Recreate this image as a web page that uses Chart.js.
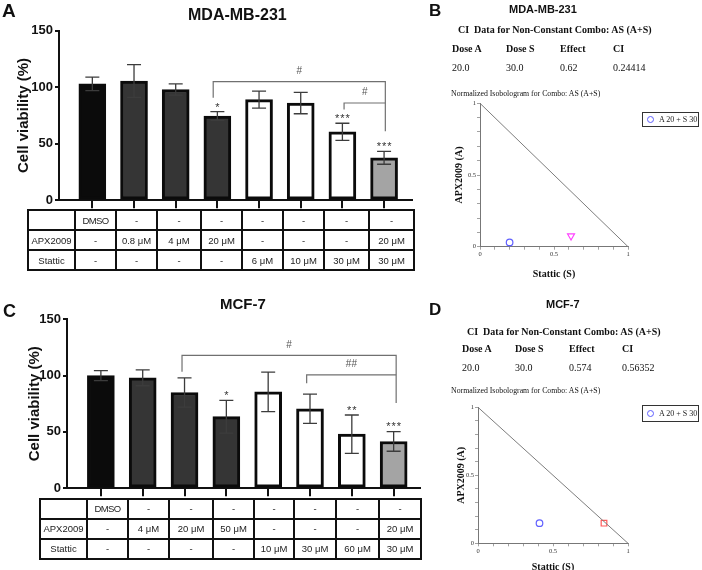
<!DOCTYPE html>
<html><head><meta charset="utf-8">
<script src="https://cdn.jsdelivr.net/npm/chart.js@4"></script>
<style>
html,body{margin:0;padding:0;background:#fff;width:702px;height:570px;overflow:hidden;position:relative;-webkit-font-smoothing:antialiased;}
canvas{position:absolute;}
.t{position:absolute;white-space:pre;line-height:1;color:#111;will-change:transform;}
table.tb{position:absolute;border-collapse:collapse;table-layout:fixed;font-family:'Liberation Sans',Arial,sans-serif;font-size:9.5px;color:#222;}
table.tb td{border:2px solid #111;text-align:center;padding:0;white-space:nowrap;overflow:hidden;}
.leg{position:absolute;border:1.5px solid #333;box-sizing:border-box;background:#fff;font-family:'Liberation Serif',serif;font-size:8px;color:#222;will-change:transform;}
.leg .dot{position:absolute;width:5px;height:5px;border:1.2px solid #5f5fff;border-radius:50%;}
</style></head><body>
<canvas id="cA" width="420" height="210" style="left:0;top:0"></canvas>
<canvas id="cC" width="428" height="208" style="left:0;top:290px"></canvas>
<canvas id="cB" width="200" height="185" style="left:440px;top:95px"></canvas>
<canvas id="cD" width="200" height="175" style="left:440px;top:398px"></canvas>
<script>
// ---------- DATA ----------
const aVehicle = ['DMSO','-','-','-','-','-','-','-'];
const aApx     = ['-','0.8 μM','4 μM','20 μM','-','-','-','20 μM'];
const aStattic = ['-','-','-','-','6 μM','10 μM','30 μM','30 μM'];
const aMean    = [103, 105.5, 98, 74.5, 89, 86, 60.5, 37.5];
const aSd      = [6, 14.5, 5, 3.8, 7.5, 9.5, 7.6, 5.7];
const aSig     = ['','','','*','','','***','***'];

const cVehicle = ['DMSO','-','-','-','-','-','-','-'];
const cApx     = ['-','4 μM','20 μM','50 μM','-','-','-','20 μM'];
const cStattic = ['-','-','-','-','10 μM','30 μM','60 μM','30 μM'];
const cMean    = [100, 98, 85, 63.5, 85.5, 70.5, 48, 41.5];
const cSd      = [4.5, 7, 13, 14.5, 17.5, 13, 17, 8.7];
const cSig     = ['','','','*','','','**','***'];

const yTicks = [0, 50, 100, 150];
const ciHeaders = ['Dose A','Dose S','Effect','CI'];
const bCI = ['20.0','30.0','0.62','0.24414'];
const dCI = ['20.0','30.0','0.574','0.56352'];
const additiveLine = [{x:0,y:1},{x:1,y:0}];
const bCombo = [{x:0.2, y:0.03}];
const bOther = [{x:0.615, y:0.075}];
const dCombo = [{x:0.41, y:0.148}];
const dOther = [{x:0.84, y:0.148}];
const isoTickLabels = [0, 0.5, 1];
const legendLabel = 'A 20 + S 30';

// ---------- HELPERS ----------
function txt(s, x, y, font, align) {
  const d = document.createElement('div');
  d.className = 't'; d.textContent = s; d.style.font = font;
  d.style.left = '0px'; d.style.top = '0px';
  document.body.appendChild(d);
  const w = d.offsetWidth, h = d.offsetHeight;
  d.style.left = Math.round(align === 'left' ? x : x - w / 2) + 'px';
  d.style.top = Math.round(y - h / 2) + 'px';
}
function buildTable(left, top, colW, rowH, rows) {
  const t = document.createElement('table'); t.className = 'tb';
  t.style.left = left + 'px'; t.style.top = top + 'px';
  t.style.width = colW.reduce((a, b) => a + b, 0) + 'px';
  const cg = document.createElement('colgroup');
  colW.forEach(w => { const c = document.createElement('col'); c.style.width = w + 'px'; cg.appendChild(c); });
  t.appendChild(cg);
  const tb = document.createElement('tbody');
  rows.forEach(r => {
    const tr = document.createElement('tr'); tr.style.height = rowH + 'px';
    r.forEach(c => {
      const td = document.createElement('td'); td.textContent = c;
      if (c === 'DMSO') td.style.letterSpacing = '-0.6px';
      tr.appendChild(td);
    });
    tb.appendChild(tr);
  });
  t.appendChild(tb);
  document.body.appendChild(t);
}

const annotPlugin = {
  id: 'annot',
  afterDatasetsDraw(chart, args, o) {
    const {ctx, scales: {x, y}} = chart;
    ctx.save();
    ctx.strokeStyle = '#3c3c3c'; ctx.lineWidth = 1.3;
    o.means.forEach((m, i) => {
      const px = x.getPixelForValue(i);
      const t = y.getPixelForValue(m + o.sds[i]);
      const b = y.getPixelForValue(m - o.sds[i]);
      ctx.beginPath();
      ctx.moveTo(px, t); ctx.lineTo(px, b);
      ctx.moveTo(px - 7, t); ctx.lineTo(px + 7, t);
      ctx.moveTo(px - 7, b); ctx.lineTo(px + 7, b);
      ctx.stroke();
      if (o.sig[i]) {
        ctx.fillStyle = '#333';
        ctx.font = '11px "Liberation Sans"';
        ctx.letterSpacing = '1px';
        ctx.textAlign = 'center'; ctx.textBaseline = 'alphabetic';
        ctx.fillText(o.sig[i], px + 0.5, t + o.starDy);
      }
    });
    ctx.letterSpacing = '0px';
    ctx.strokeStyle = '#707070'; ctx.lineWidth = 1.2;
    o.brackets.forEach(br => {
      const x1 = x.getPixelForValue(br.x1), x2 = x.getPixelForValue(br.x2);
      const yy = y.getPixelForValue(br.y);
      ctx.beginPath();
      ctx.moveTo(x1, y.getPixelForValue(br.l)); ctx.lineTo(x1, yy); ctx.lineTo(x2, yy);
      ctx.lineTo(x2, y.getPixelForValue(br.r));
      ctx.stroke();
      ctx.fillStyle = '#555'; ctx.font = '10px "Liberation Sans"';
      ctx.textAlign = 'center'; ctx.textBaseline = 'middle';
      ctx.fillText(br.label, (x1 + x2) / 2, yy - br.dy);
    });
    ctx.restore();
  }
};

const barFills = ['#0b0b0b', '#353535', '#353535', '#353535', '#ffffff', '#ffffff', '#ffffff', '#a4a4a4'];

function barChart(id, means, sds, sig, c) {
  new Chart(document.getElementById(id), {
    type: 'bar',
    data: { datasets: [{
      data: means.map((v, i) => ({x: i, y: v})),
      backgroundColor: barFills, borderColor: '#0b0b0b', borderWidth: 3,
      borderSkipped: false, barThickness: 27
    }]},
    options: {
      responsive: false, animation: false, devicePixelRatio: 1,
      layout: {padding: {top: c.padTop, right: c.padRight, bottom: 1, left: 0}},
      plugins: {
        legend: {display: false}, tooltip: {enabled: false},
        annot: {means, sds, sig, brackets: c.brackets, starDy: c.starDy}
      },
      scales: {
        x: {
          type: 'linear', min: c.xmin, max: c.xmax, offset: false,
          afterBuildTicks: s => { s.ticks = means.map((_, i) => ({value: i})); },
          afterFit: s => { s.height = 8; },
          ticks: {display: false},
          grid: {display: true, drawOnChartArea: false, drawTicks: true, tickLength: 8, color: '#111', lineWidth: 2, offset: false},
          border: {display: true, color: '#111', width: 2}
        },
        y: {
          min: 0, max: 150,
          afterBuildTicks: s => { s.ticks = yTicks.map(v => ({value: v})); },
          afterFit: s => { s.width = c.yWidth; },
          ticks: {font: {family: 'Liberation Sans', size: 13, weight: 'bold'}, color: '#111', padding: 2},
          grid: {drawOnChartArea: false, tickLength: 4, color: '#111', lineWidth: 2},
          border: {color: '#111', width: 2},
          title: {display: true, text: 'Cell viability (%)', color: '#111',
                  font: {family: 'Liberation Sans', size: 15, weight: 'bold'},
                  padding: {top: c.titlePad, bottom: 0}}
        }
      }
    },
    plugins: [annotPlugin]
  });
}

function isoChart(id, combo, other, c) {
  const tickCb = v => {
    for (const t of isoTickLabels) if (Math.abs(v - t) < 1e-6) return String(t);
    return '';
  };
  const axisBase = {
    type: 'linear', min: 0, max: 1,
    ticks: {stepSize: 0.1, autoSkip: false, maxRotation: 0, callback: tickCb,
            font: {family: 'Liberation Serif', size: 6.5}, color: '#333', padding: 1},
    grid: {drawOnChartArea: false, tickLength: 3, color: '#8a8a8a', lineWidth: 0.8},
    border: {color: '#777', width: 1}
  };
  new Chart(document.getElementById(id), {
    type: 'scatter',
    data: { datasets: [
      {data: additiveLine, showLine: true, borderColor: '#7d7d7d', borderWidth: 1, pointRadius: 0, clip: false},
      {data: combo, pointStyle: 'circle', pointRadius: 3.3, pointBorderColor: '#6060ff',
       pointBackgroundColor: 'rgba(0,0,0,0)', pointBorderWidth: 1.2, clip: false},
      {data: other, pointStyle: c.style, pointRotation: c.rot, pointRadius: c.r, pointBorderColor: c.color,
       pointBackgroundColor: 'rgba(0,0,0,0)', pointBorderWidth: 1.2, clip: false}
    ]},
    options: {
      responsive: false, animation: false, devicePixelRatio: 1,
      layout: {padding: {top: c.padTop, right: 12, bottom: 0, left: 0}},
      plugins: {legend: {display: false}, tooltip: {enabled: false}},
      scales: {
        x: Object.assign({}, axisBase, {
          afterFit: s => { s.height = c.xH; },
          title: {display: true, text: 'Stattic (S)', color: '#111',
                  font: {family: 'Liberation Serif', size: 10, weight: 'bold'}, padding: {top: c.xTitlePad, bottom: 0}}
        }),
        y: Object.assign({}, axisBase, {
          afterFit: s => { s.width = c.yW; },
          title: {display: true, text: 'APX2009 (A)', color: '#111',
                  font: {family: 'Liberation Serif', size: 10, weight: 'bold'}, padding: {top: c.yTitlePad, bottom: 0}}
        })
      }
    }
  });
}

// ---------- PANEL A ----------
barChart('cA', aMean, aSd, aSig, {
  padTop: 30.7, padRight: 8, yWidth: 59, titlePad: 15, xmin: -0.8, xmax: 7.67, starDy: -1,
  brackets: [
    {x1: 2.9, x2: 7.03, y: 105, l: 90.7, r: 61, label: '#', dy: 10},
    {x1: 6.04, x2: 7.03, y: 86, l: 80.2, r: 86, label: '#', dy: 11}
  ]
});
buildTable(27, 209, [47, 41, 41, 44, 41, 41, 41, 45, 45], 20,
  [[''].concat(aVehicle), ['APX2009'].concat(aApx), ['Stattic'].concat(aStattic)]);
txt('A', 9, 11, 'bold 19px "Liberation Sans"', 'center');
txt('MDA-MB-231', 237.5, 15, 'bold 16px "Liberation Sans"', 'center');

// ---------- PANEL C ----------
barChart('cC', cMean, cSd, cSig, {
  padTop: 29.3, padRight: 8, yWidth: 67, titlePad: 26, xmin: -0.81, xmax: 7.63, starDy: -1.5,
  brackets: [
    {x1: 1.94, x2: 7.06, y: 118, l: 103.5, r: 75.6, label: '#', dy: 10},
    {x1: 4.92, x2: 7.06, y: 100.6, l: 93.3, r: 100.6, label: '##', dy: 11}
  ]
});
buildTable(39, 497.5, [47, 41, 41, 44, 41, 40, 42, 43, 42], 20,
  [[''].concat(cVehicle), ['APX2009'].concat(cApx), ['Stattic'].concat(cStattic)]);
txt('C', 9, 311, 'bold 18px "Liberation Sans"', 'center');
txt('MCF-7', 243, 303, 'bold 15px "Liberation Sans"', 'center');

// ---------- PANEL B ----------
txt('B', 434.5, 11, 'bold 17px "Liberation Sans"', 'center');
txt('MDA-MB-231', 543, 9, 'bold 11px "Liberation Sans"', 'center');
txt('CI  Data for Non-Constant Combo: AS (A+S)', 554.5, 29.5, 'bold 10px "Liberation Serif"', 'center');
const bCols = [452.3, 506, 560, 613.3];
ciHeaders.forEach((h, i) => txt(h, bCols[i], 48, 'bold 10px "Liberation Serif"', 'left'));
bCI.forEach((v, i) => txt(v, bCols[i], 67, '10px "Liberation Serif"', 'left'));
txt('Normalized Isobologram for Combo: AS (A+S)', 451, 93.5, '7.8px "Liberation Serif"', 'left');
isoChart('cB', bCombo, bOther, {
  style: 'triangle', rot: 180, r: 4, color: '#ff40ff',
  padTop: 8.3, xH: 33.3, yW: 40, xTitlePad: 6, yTitlePad: 13
});

// ---------- PANEL D ----------
txt('D', 434.5, 310, 'bold 17px "Liberation Sans"', 'center');
txt('MCF-7', 563, 304, 'bold 11px "Liberation Sans"', 'center');
txt('CI  Data for Non-Constant Combo: AS (A+S)', 563.5, 331, 'bold 10px "Liberation Serif"', 'center');
const dCols = [461.7, 515, 569.3, 622.3];
ciHeaders.forEach((h, i) => txt(h, dCols[i], 348.5, 'bold 10px "Liberation Serif"', 'left'));
dCI.forEach((v, i) => txt(v, dCols[i], 367, '10px "Liberation Serif"', 'left'));
txt('Normalized Isobologram for Combo: AS (A+S)', 450.7, 390, '7.8px "Liberation Serif"', 'left');
isoChart('cD', dCombo, dOther, {
  style: 'rect', rot: 0, r: 4, color: '#ff5a5a',
  padTop: 9.3, xH: 29.7, yW: 38, xTitlePad: 3, yTitlePad: 15
});

// ---------- LEGENDS ----------
function legend(left, top, h) {
  const d = document.createElement('div'); d.className = 'leg';
  d.style.left = left + 'px'; d.style.top = top + 'px'; d.style.width = '57px'; d.style.height = h + 'px';
  const dot = document.createElement('span'); dot.className = 'dot';
  dot.style.left = '4px'; dot.style.top = Math.round(h / 2 - 4.7) + 'px';
  const s = document.createElement('span'); s.textContent = legendLabel;
  s.style.position = 'absolute'; s.style.left = '16px'; s.style.top = Math.round(h / 2 - 6) + 'px';
  s.style.whiteSpace = 'pre'; s.style.color = '#222';
  d.appendChild(dot); d.appendChild(s);
  document.body.appendChild(d);
}
legend(642, 112, 15);
legend(642, 405, 17);
</script>
</body></html>
